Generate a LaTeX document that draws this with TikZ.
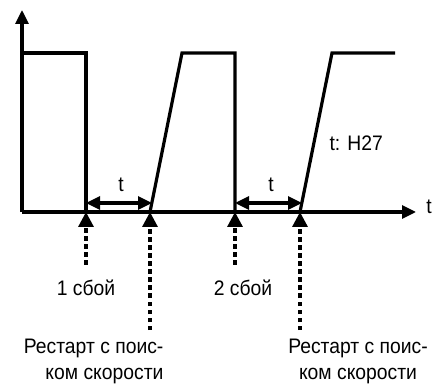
\documentclass[tikz,border=0pt]{standalone}
\usepackage{fontspec}
\setmainfont{Liberation Sans}[FakeStretch=0.92]
\usetikzlibrary{arrows.meta, positioning}
\tikzset{
  every picture/.style={line width=3.2pt, font=\fontsize{21}{26}\selectfont},
  axis/.style={-{Triangle[length=14pt, width=13pt]}},
  wave/.style={line join=miter},
  gap/.style={{Triangle[length=14pt, width=13pt]}-{Triangle[length=14pt, width=13pt]}},
  event/.style={-{Triangle[length=15pt, width=15pt]}, dash pattern=on 4.5pt off 3.5pt},
  note/.style={inner sep=1pt},
}
\begin{document}
\begin{tikzpicture}[x=1pt, y=1pt]
  \useasboundingbox (0,0) rectangle (441,388);
  % axes
  \coordinate (o) at (22,176);
  \coordinate (ytop) at (22,378);
  \coordinate (tend) at (416,176);
  \draw[axis] (o) -- (ytop);
  \draw[axis] (o) -- (tend);
  \node[note] (tlbl) at (429,181) {t};
  % output waveform
  \coordinate (fall1) at (86,176);
  \coordinate (rise1) at (150,176);
  \coordinate (fall2) at (235,176);
  \coordinate (rise2) at (300,176);
  \draw[wave] (22,335) -| (fall1);
  \draw[wave] (rise1) -- (182,335) -| (fall2);
  \draw[wave] (rise2) -- (332,335) -- (395,335);
  % waiting time t
  \coordinate (g1a) at (86,185);
  \coordinate (g1b) at (152,185);
  \coordinate (g2a) at (235,185);
  \coordinate (g2b) at (302,185);
  \draw[gap] (g1a) -- (g1b);
  \draw[gap] (g2a) -- (g2b);
  \node[note] (t1) at (121,203) {t};
  \node[note] (t2) at (271,203) {t};
  \node[note, anchor=west] (h27) at (327,245) {t: H27};
  % events
  \node[note] (f1) at (86,100) {1 сбой};
  \node[note] (f2) at (243,100) {2 сбой};
  \node[note, align=right, anchor=east] (r1) at (166,27) {Рестарт с поис-\\ком скорости};
  \node[note, align=center] (r2) at (358,27) {Рестарт с поис-\\ком скорости};
  \coordinate (f1e) at (86,123);
  \coordinate (f2e) at (235,123);
  \coordinate (r1e) at (150,58);
  \coordinate (r2e) at (300,58);
  \draw[event] (f1e) -- (fall1);
  \draw[event] (f2e) -- (fall2);
  \draw[event] (r1e) -- (rise1);
  \draw[event] (r2e) -- (rise2);
\end{tikzpicture}
\end{document}
